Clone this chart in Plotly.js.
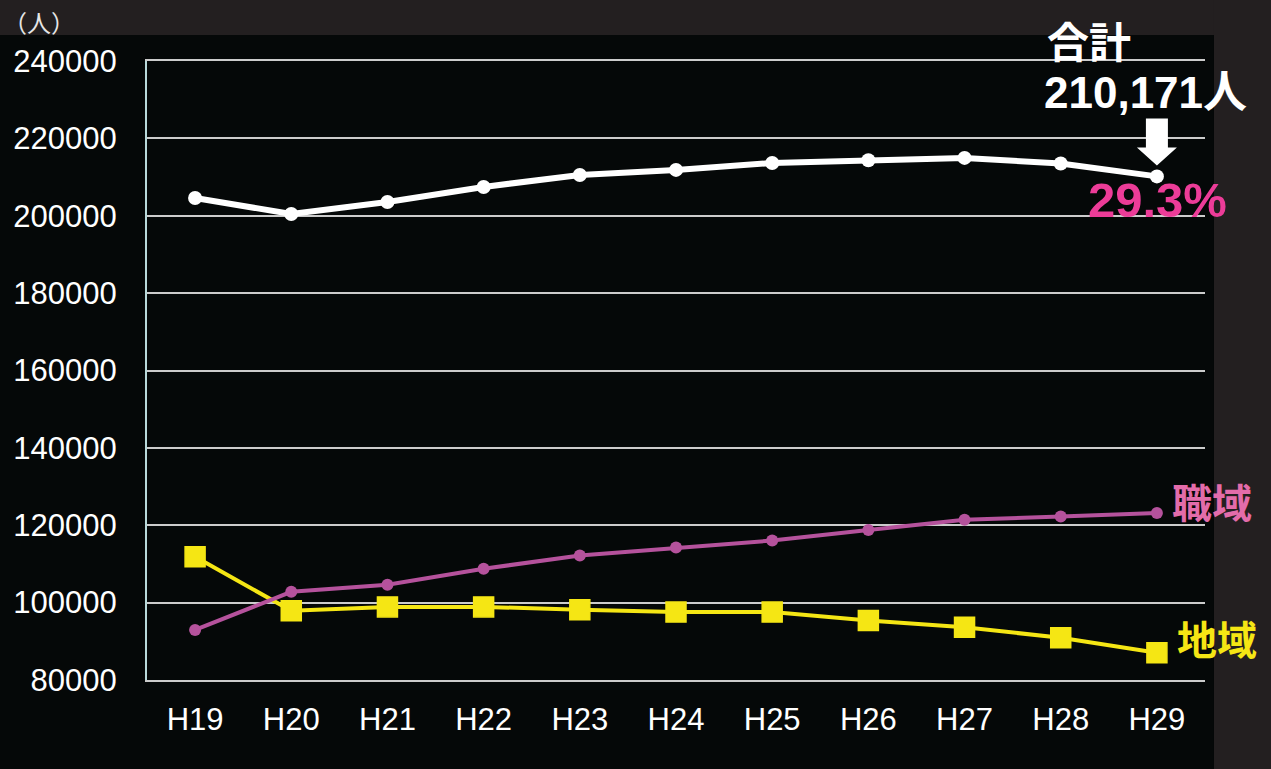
<!DOCTYPE html>
<html>
<head>
<meta charset="utf-8">
<script src="https://cdn.plot.ly/plotly-3.0.1.min.js"></script>
<style>
  html, body { margin: 0; padding: 0; background: #050808; }
  #chart { width: 1271px; height: 769px; }
</style>
</head>
<body>
<div id="chart"></div>
<script>
// Fiscal years (Heisei)
const years = ['H19', 'H20', 'H21', 'H22', 'H23', 'H24', 'H25', 'H26', 'H27', 'H28', 'H29'];

// Participants (people)
const totalPeople = [204600, 200450, 203550, 207450, 210550, 211850, 213650, 214350, 214950, 213500, 210171];
const workplace   = [92950, 102800, 104600, 108750, 112200, 114250, 116050, 118800, 121400, 122250, 123150];
const community   = [111850, 97900, 98900, 98900, 98150, 97550, 97550, 95400, 93650, 90900, 87021];

// Text labels
const totalLabelTop = '合計';
const totalLabelValue = '210,171人';
const shareLabel = '29.3%';
const workplaceLabel = '職域';
const communityLabel = '地域';
const unitLabel = '（人）';

const latin = '"Liberation Sans", Arial, "Noto Sans CJK JP", sans-serif';
const last = years.length - 1;

const traces = [
  {
    x: years, y: community, type: 'scatter', mode: 'lines+markers',
    name: communityLabel,
    line: { color: '#f5e614', width: 4 },
    marker: { symbol: 'square', size: 20, color: '#f5e614', line: { color: '#f5e614', width: 1.5 } },
    cliponaxis: false
  },
  {
    x: years, y: workplace, type: 'scatter', mode: 'lines+markers',
    name: workplaceLabel,
    line: { color: '#b5529c', width: 4 },
    marker: { symbol: 'circle', size: 12, color: '#b5529c' },
    cliponaxis: false
  },
  {
    x: years, y: totalPeople, type: 'scatter', mode: 'lines+markers',
    name: totalLabelTop,
    line: { color: '#ffffff', width: 6 },
    marker: { symbol: 'circle', size: 14, color: '#ffffff' },
    cliponaxis: false
  }
];

const layout = {
  width: 1271,
  height: 769,
  margin: { l: 147, r: 66, t: 61, b: 89 },
  paper_bgcolor: '#050808',
  plot_bgcolor: 'rgba(0,0,0,0)',
  showlegend: false,
  font: { family: latin, color: '#ffffff' },
  xaxis: {
    type: 'category',
    range: [-0.5, years.length - 0.5],
    showgrid: false,
    showline: true,
    mirror: true,
    linecolor: '#cccccc',
    linewidth: 2,
    zeroline: false,
    ticks: '',
    ticklabelstandoff: 11,
    tickfont: { family: latin, size: 31, color: '#ffffff' }
  },
  yaxis: {
    range: [80000, 240000],
    dtick: 20000,
    tick0: 0,
    tickformat: 'd',
    showgrid: true,
    gridcolor: '#cccccc',
    gridwidth: 2,
    zeroline: false,
    showline: true,
    linecolor: '#b9d9da',
    linewidth: 2,
    ticks: '',
    ticklabelstandoff: 22,
    tickfont: { family: latin, size: 31, color: '#ffffff' }
  },
  shapes: [
    // grey frame strips around the dark panel
    { type: 'rect', xref: 'paper', yref: 'paper', x0: -0.2, x1: 1.2, y0: 1.042, y1: 1.2,
      fillcolor: '#231f20', line: { width: 0 }, layer: 'below' },
    { type: 'rect', xref: 'paper', yref: 'paper', x0: 1.0085, x1: 1.2, y0: -0.3, y1: 1.2,
      fillcolor: '#231f20', line: { width: 0 }, layer: 'below' },
    // down arrow pointing at the latest total
    { type: 'path', xref: 'x', yref: 'y', xsizemode: 'pixel', ysizemode: 'pixel',
      xanchor: last, yanchor: totalPeople[last],
      path: 'M -11,58 L 11,58 L 11,29 L 20,29 L 0,11 L -20,29 L -11,29 Z',
      fillcolor: '#ffffff', line: { width: 0 } }
  ],
  annotations: [
    { xref: 'paper', yref: 'paper', x: -0.1025, y: 1.0646, text: unitLabel, showarrow: false,
      xanchor: 'center', yanchor: 'middle',
      font: { family: '"Noto Sans CJK JP", sans-serif', size: 24, color: '#e6e6e6' } },
    { x: years[last], y: totalPeople[last], text: '<b>' + totalLabelTop + '</b>', showarrow: false,
      xanchor: 'center', yanchor: 'middle', xshift: -68, yshift: 137,
      font: { family: '"Noto Sans CJK JP", sans-serif', size: 42, color: '#ffffff' } },
    { x: years[last], y: totalPeople[last], text: '<b>' + totalLabelValue + '</b>', showarrow: false,
      xanchor: 'center', yanchor: 'middle', xshift: -11, yshift: 84,
      font: { family: latin, size: 44, color: '#ffffff' } },
    { x: years[last], y: totalPeople[last], text: '<b>' + shareLabel + '</b>', showarrow: false,
      xanchor: 'center', yanchor: 'middle', xshift: 1, yshift: -24,
      font: { family: latin, size: 49, color: '#ec3c98' } },
    { x: years[last], y: workplace[last], text: '<b>' + workplaceLabel + '</b>', showarrow: false,
      xanchor: 'left', yanchor: 'middle', xshift: 13, yshift: 12,
      font: { family: '"Noto Sans CJK JP", sans-serif', size: 40, color: '#e36caa' } },
    { x: years[last], y: community[last], text: '<b>' + communityLabel + '</b>', showarrow: false,
      xanchor: 'left', yanchor: 'middle', xshift: 18, yshift: 15,
      font: { family: '"Noto Sans CJK JP", sans-serif', size: 40, color: '#f5e614' } }
  ]
};

Plotly.newPlot('chart', traces, layout, { displayModeBar: false, staticPlot: true });
</script>
</body>
</html>
